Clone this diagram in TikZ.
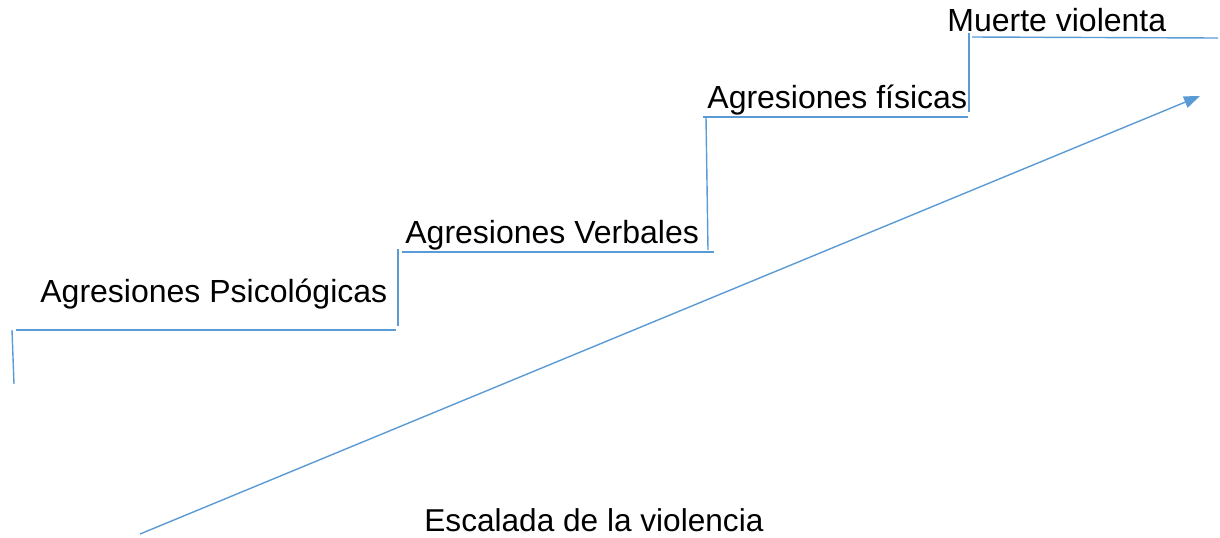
\documentclass[tikz,border=0pt]{standalone}
\usepackage{fontspec}
\setmainfont{Liberation Sans}
\usetikzlibrary{arrows.meta}

\definecolor{stepblue}{HTML}{5B9BD5}
\tikzset{
  stepline/.style={draw=stepblue, line width=0.7pt},
  steptext/.style={anchor=base west, inner sep=0pt, font=\fontsize{16}{19}\selectfont}
}

\begin{document}
\begin{tikzpicture}[x=0.5pt, y=-0.5pt]
\useasboundingbox (0,0) rectangle (1220,537);

% steps
\draw[stepline] (12,330) -- (14,384);
\draw[stepline] (16,330) -- (396,330);
\draw[stepline] (398,249) -- (398,326);
\draw[stepline] (402,252) -- (714,252);
\draw[stepline] (706,117) -- (708,250);
\draw[stepline] (703,117) -- (968,117);
\draw[stepline] (969,33) -- (969,112);
\draw[stepline] (972,37) -- (1218,38);

\node[steptext] (psico) at (40,302) {Agresiones Psicológicas};
\node[steptext] (verbal) at (405,243) {Agresiones Verbales};
\node[steptext] (fisica) at (707,108) {Agresiones físicas};
\node[steptext] (muerte) at (947,31) {Muerte violenta};

% arrow
\coordinate (start) at (140,534);
\coordinate (tip) at (1200,96);
\draw[stepline, -{Triangle[length=8pt,width=6pt]}] (start) -- (tip);

\node[steptext, font=\fontsize{15.8}{19}\selectfont] (escalada) at (424,531) {Escalada de la violencia};
\end{tikzpicture}
\end{document}
